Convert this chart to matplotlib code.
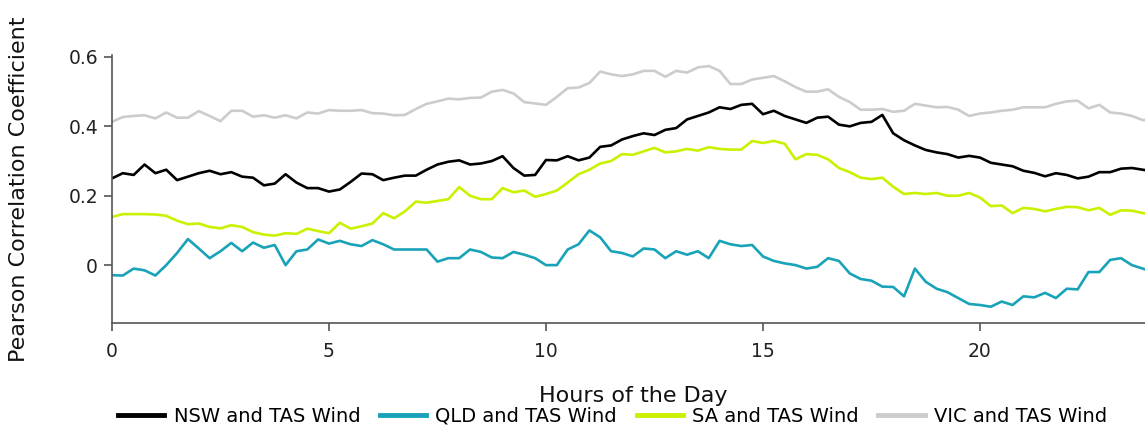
import numpy as np
import matplotlib
matplotlib.use("Agg")
import matplotlib.pyplot as plt

# hours of the day, quarter-hour steps
hours = np.linspace(0, 24, 97)

nsw = [0.25, 0.265, 0.26, 0.29, 0.265, 0.275, 0.245, 0.255, 0.265, 0.272, 0.262, 0.268, 0.255, 0.252, 0.23, 0.235,
       0.262, 0.238, 0.222, 0.222, 0.212, 0.218, 0.24, 0.264, 0.262, 0.245, 0.252, 0.258, 0.258, 0.275, 0.29, 0.298,
       0.302, 0.29, 0.293, 0.30, 0.314, 0.28, 0.258, 0.26, 0.303, 0.302, 0.314, 0.302, 0.31, 0.341, 0.345, 0.362,
       0.372, 0.38, 0.375, 0.39, 0.395, 0.42, 0.43, 0.44, 0.455, 0.45, 0.462, 0.465, 0.435, 0.445, 0.43, 0.42,
       0.41, 0.425, 0.428, 0.405, 0.40, 0.41, 0.413, 0.433, 0.38, 0.36, 0.345, 0.332, 0.325, 0.32, 0.31, 0.315,
       0.31, 0.295, 0.29, 0.285, 0.272, 0.266, 0.256, 0.265, 0.26, 0.25, 0.255, 0.268, 0.268, 0.278, 0.28, 0.275, 0.27]

qld = [-0.029, -0.03, -0.01, -0.015, -0.03, 0.0, 0.035, 0.075, 0.048, 0.02, 0.04, 0.064, 0.04, 0.065, 0.05, 0.058,
       0.0, 0.04, 0.045, 0.074, 0.062, 0.07, 0.06, 0.055, 0.072, 0.06, 0.045, 0.045, 0.045, 0.045, 0.01, 0.02,
       0.02, 0.045, 0.038, 0.022, 0.02, 0.038, 0.03, 0.02, 0.0, 0.0, 0.045, 0.06, 0.1, 0.08, 0.04, 0.035,
       0.025, 0.048, 0.045, 0.02, 0.04, 0.03, 0.04, 0.02, 0.07, 0.06, 0.055, 0.058, 0.025, 0.012, 0.005, 0.0,
       -0.01, -0.005, 0.02, 0.012, -0.024, -0.04, -0.045, -0.062, -0.063, -0.09, -0.01, -0.048, -0.068, -0.078, -0.095, -0.112,
       -0.115, -0.12, -0.105, -0.115, -0.09, -0.093, -0.08, -0.095, -0.068, -0.07, -0.02, -0.02, 0.015, 0.02, 0.0, -0.01, -0.02]

sa = [0.139, 0.147, 0.147, 0.147, 0.146, 0.142, 0.128, 0.118, 0.12, 0.11, 0.106, 0.115, 0.11, 0.095, 0.088, 0.085,
      0.092, 0.09, 0.105, 0.098, 0.092, 0.122, 0.105, 0.112, 0.12, 0.15, 0.135, 0.155, 0.183, 0.18, 0.185, 0.19,
      0.225, 0.2, 0.19, 0.19, 0.222, 0.21, 0.215, 0.197, 0.205, 0.215, 0.238, 0.262, 0.275, 0.293, 0.3, 0.32,
      0.318, 0.328, 0.338, 0.325, 0.328, 0.335, 0.33, 0.34, 0.335, 0.333, 0.333, 0.358, 0.352, 0.358, 0.35, 0.305,
      0.32, 0.318, 0.305, 0.28, 0.268, 0.252, 0.248, 0.252, 0.226, 0.205, 0.208, 0.205, 0.208, 0.2, 0.2, 0.208,
      0.195, 0.17, 0.172, 0.15, 0.165, 0.162, 0.155, 0.162, 0.168, 0.167, 0.158, 0.165, 0.145, 0.158, 0.157, 0.15, 0.145]

vic = [0.413, 0.427, 0.43, 0.432, 0.423, 0.44, 0.425, 0.425, 0.444, 0.43, 0.415, 0.445, 0.445, 0.428, 0.432, 0.425,
       0.432, 0.423, 0.44, 0.437, 0.447, 0.445, 0.445, 0.447, 0.438, 0.437, 0.432, 0.433, 0.45, 0.465, 0.472, 0.48,
       0.478, 0.482, 0.483, 0.5, 0.505, 0.495, 0.47, 0.466, 0.462, 0.485, 0.51, 0.512, 0.525, 0.558, 0.55, 0.545,
       0.55, 0.56, 0.56, 0.543, 0.56, 0.555, 0.57, 0.574, 0.56, 0.522, 0.522, 0.535, 0.54, 0.545, 0.53, 0.513,
       0.50, 0.5, 0.507, 0.485, 0.47, 0.448, 0.448, 0.45, 0.442, 0.445, 0.465, 0.46, 0.455, 0.456, 0.448, 0.43,
       0.437, 0.44, 0.445, 0.448, 0.455, 0.455, 0.455, 0.465, 0.472, 0.474, 0.452, 0.462, 0.44, 0.437, 0.43, 0.418, 0.42]

labels = ["NSW and TAS Wind", "QLD and TAS Wind", "SA and TAS Wind", "VIC and TAS Wind"]
colors = ["#000000", "#19a3b8", "#ccf000", "#cccccc"]

fig = plt.figure(figsize=(11.45, 4.29), dpi=100)
ax = fig.add_axes([0.0978, 0.247, 0.9097, 0.625])

for series, name, c in zip([nsw, qld, sa, vic], labels, colors):
    ax.plot(hours, series, color=c, linewidth=1.9, label=name)

ax.set_xlim(0, 24)
ax.set_ylim(-0.167, 0.606)
ax.set_xticks([0, 5, 10, 15, 20])
ax.set_xticklabels(["0", "5", "10", "15", "20"])
ax.set_yticks([0, 0.2, 0.4, 0.6])
ax.set_yticklabels(["0", "0.2", "0.4", "0.6"])

for s in ["top", "right"]:
    ax.spines[s].set_visible(False)
for s in ["left", "bottom"]:
    ax.spines[s].set_color("#555555")
    ax.spines[s].set_linewidth(1.2)

ax.tick_params(axis="both", colors="#555555", labelcolor="#222222", labelsize=13.5, length=6, width=1.2)
ax.tick_params(axis="x", pad=8)
ax.tick_params(axis="y", pad=4)

ax.set_xlabel("Hours of the Day", fontsize=16, color="#111111", labelpad=18)
ax.set_ylabel("Pearson Correlation Coefficient", fontsize=16, color="#111111", labelpad=28)

leg = fig.legend(loc="center", bbox_to_anchor=(0.535, 0.03), ncol=4, frameon=False, fontsize=14,
                 handlelength=2.4, handletextpad=0.47, columnspacing=1.0, borderpad=0.2)
for line in leg.get_lines():
    line.set_linewidth(3.5)

fig.savefig("out.png", dpi=100)
